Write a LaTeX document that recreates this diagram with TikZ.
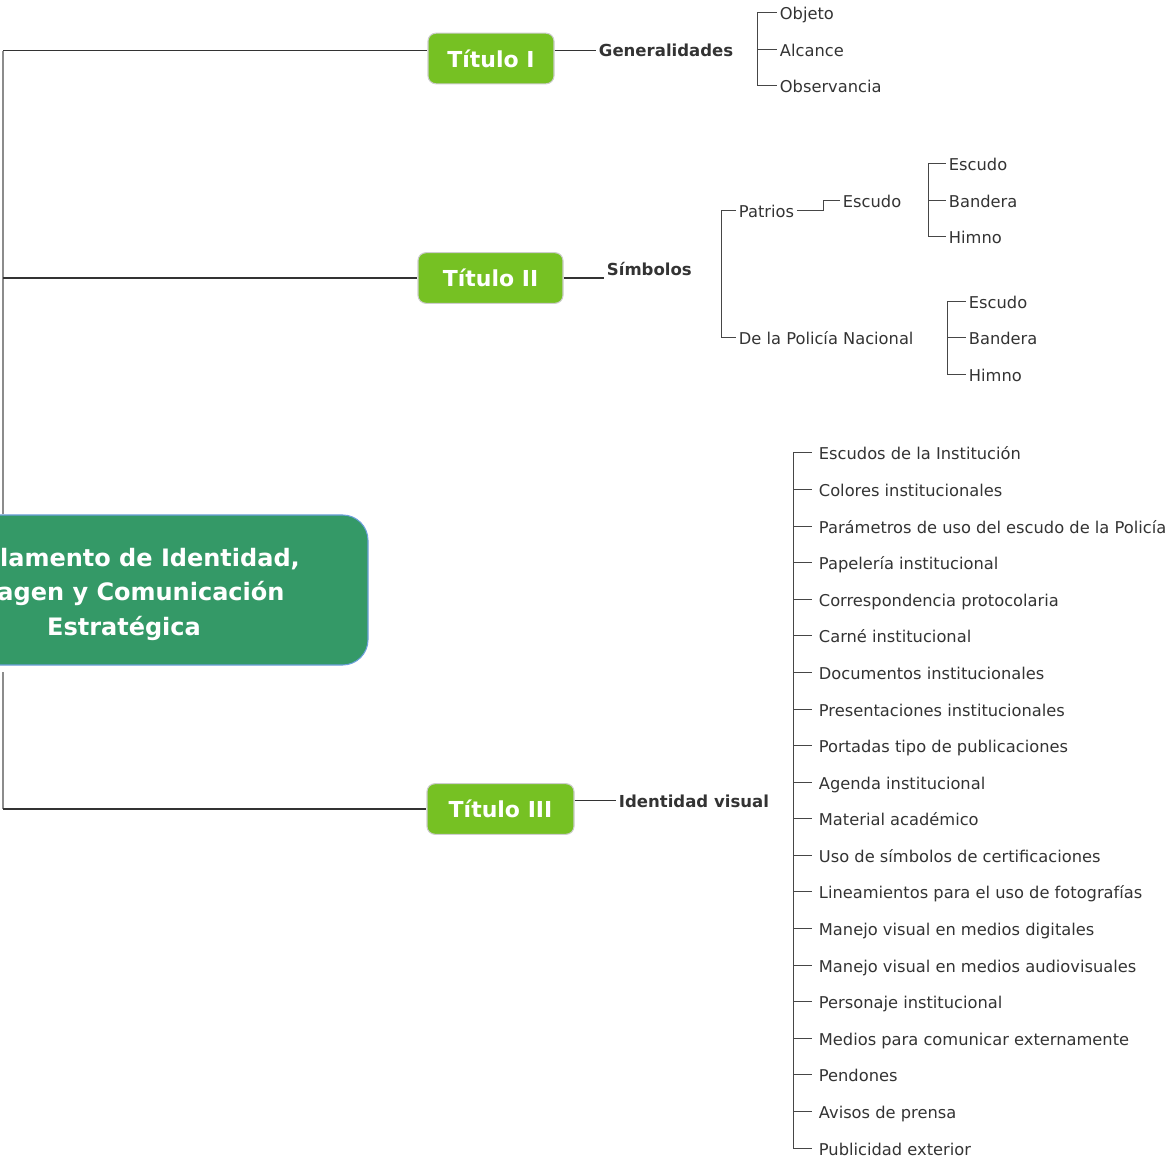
\documentclass[tikz,border=0pt]{standalone}
\usepackage{fontspec}
\setmainfont{DejaVu Sans}
\usepackage{tikz}
\usetikzlibrary{calc}

\definecolor{rootgreen}{RGB}{52,153,103}
\definecolor{rootline}{RGB}{110,160,220}
\definecolor{titlegreen}{RGB}{118,193,35}
\definecolor{titleline}{RGB}{205,205,205}
\definecolor{txtgray}{RGB}{51,51,51}
\definecolor{trunkgray}{RGB}{140,140,140}
\definecolor{branchgray}{RGB}{70,70,70}

\begin{document}
\begin{tikzpicture}[x=0.75pt, y=-0.75pt,
  root/.style={draw=rootline, line width=0.8pt, fill=rootgreen, rounded corners=19pt,
    minimum width=366pt, minimum height=112.5pt, text=white, align=center,
    font=\fontsize{18}{26}\selectfont\bfseries},
  titulo/.style={draw=titleline, line width=0.8pt, fill=titlegreen, rounded corners=6pt,
    minimum height=38pt, text=white, font=\fontsize{16.5}{20}\selectfont\bfseries},
  label/.style={anchor=base west, inner xsep=2pt, text=txtgray,
    font=\fontsize{12.4}{15}\selectfont\bfseries},
  leaf/.style={anchor=west, inner xsep=2pt, inner ysep=0pt, text height=12pt,
    text depth=1.5pt, text=txtgray, font=\fontsize{12.2}{15}\selectfont},
  trunk/.style={draw=trunkgray, line width=1.5pt},
  link/.style={draw=txtgray, line width=0.9pt},
  branch/.style={draw=branchgray, line width=0.75pt}]
  \useasboundingbox (0,0) rectangle (1172,1162);

  % Central topic (cut by the left page edge)
  \node[root] (root) at (124,590) {\rule{0pt}{20pt}Reglamento de Identidad,\\Imagen y Comunicación\\Estratégica};

  % Titles
  \node[titulo, minimum width=94.5pt] (tit1) at (491,58.5) {Título I};
  \node[titulo, minimum width=108.75pt] (tit2) at (490.5,278) {Título II};
  \node[titulo, minimum width=110.25pt] (tit3) at (500.5,809) {Título III};

  % Second level
  \node[label] (gen) at (596,57) {Generalidades};
  \node[label] (sim) at (604,276) {Símbolos};
  \node[label] (idv) at (616,807) {Identidad visual};
  \draw[link] (tit1.east |- gen.west) -- (gen.west);
  \draw[link] (tit2.east) -- (tit2.east -| sim.west);
  \draw[link] (tit3.east |- idv.west) -- (idv.west);

  % Trunk on the left
  \coordinate (trk) at (3,0);
  \draw[trunk] (root.north -| trk) -- (trk |- gen.west);
  \draw[trunk] ([yshift=-5pt]root.south -| trk) -- (trk |- tit3.west);
  \draw[link] (trk |- gen.west) -- (tit1.west |- gen.west);
  \draw[link] (trk |- tit2.west) -- (tit2.west);
  \draw[link] (trk |- tit3.west) -- (tit3.west);

  % Generalidades
  \coordinate (gsp) at (757,0);
  \foreach \txt/\yy [count=\i] in {Objeto/13, Alcance/50, Observancia/86}{
    \node[leaf] (g\i) at (777,\yy) {\txt};
    \draw[branch] (g\i.west -| gsp) -- (g\i.west);
  }
  \draw[branch] (g1.west -| gsp) -- (g3.west -| gsp);

  % Simbolos
  \coordinate (ssp) at (721,0);
  \node[leaf] (pat) at (736,211) {Patrios};
  \node[leaf] (pol) at (736,338) {De la Policía Nacional};
  \draw[branch] (pat.west) -| (ssp |- pol.west) -- (pol.west);
  \node[leaf] (escp) at (840,201) {Escudo};
  \draw[branch] (pat.east) -- ++(27,0) |- (escp.west);

  \coordinate (esp) at (928,0);
  \foreach \txt/\yy [count=\i] in {Escudo/164, Bandera/201, Himno/237}{
    \node[leaf] (e\i) at (946,\yy) {\txt};
    \draw[branch] (e\i.west -| esp) -- (e\i.west);
  }
  \draw[branch] (e1.west -| esp) -- (e3.west -| esp);

  \coordinate (psp) at (947,0);
  \foreach \txt/\yy [count=\i] in {Escudo/302, Bandera/338, Himno/375}{
    \node[leaf] (p\i) at (966,\yy) {\txt};
    \draw[branch] (p\i.west -| psp) -- (p\i.west);
  }
  \draw[branch] (p1.west -| psp) -- (p3.west -| psp);

  % Identidad visual
  \coordinate (isp) at (793,0);
  \foreach \txt [count=\i] in {Escudos de la Institución, Colores institucionales,
      Parámetros de uso del escudo de la Policía, Papelería institucional,
      Correspondencia protocolaria, Carné institucional, Documentos institucionales,
      Presentaciones institucionales, Portadas tipo de publicaciones,
      Agenda institucional, Material académico, Uso de símbolos de certificaciones,
      Lineamientos para el uso de fotografías, Manejo visual en medios digitales,
      Manejo visual en medios audiovisuales, Personaje institucional,
      Medios para comunicar externamente, Pendones, Avisos de prensa,
      Publicidad exterior}{
    \node[leaf, inner xsep=5pt] (iv\i) at (812,{453+36.58*(\i-1)}) {\txt};
    \draw[branch] (iv\i.west -| isp) -- (iv\i.west);
  }
  \draw[branch] (iv1.west -| isp) -- (iv20.west -| isp);
\end{tikzpicture}
\end{document}
